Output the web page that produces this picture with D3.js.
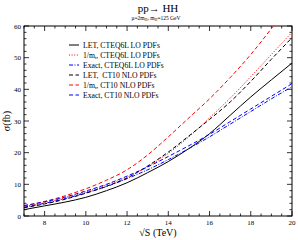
<!DOCTYPE html>
<html>
<head>
<script src="https://d3js.org/d3.v7.min.js"></script>
<style>
  body { margin: 0; background: #fff; }
  text { font-family: "Liberation Serif", "DejaVu Serif", serif; }
</style>
</head>
<body>
<svg width="298" height="240" id="mainSvg"></svg>
<script>
const energies = [7, 8, 9, 10, 11, 12, 13, 14, 15, 16, 17, 18, 19, 20];
const letLO   = [2.0, 3.2, 4.4, 5.9, 8.0, 10.5, 13.7, 17.2, 21.3, 26.0, 31.8, 37.6, 43.0, 48.3];
const invLO   = [2.9, 4.2, 5.8, 7.6, 9.8, 12.3, 15.6, 19.8, 25.0, 31.0, 37.2, 44.0, 51.0, 58.0];
const exactLO = [2.8, 4.0, 5.5, 7.3, 9.3, 11.8, 14.6, 17.8, 21.3, 25.0, 29.0, 33.0, 37.0, 40.8];
const letNLO  = [2.6, 3.8, 5.3, 7.2, 9.4, 12.0, 15.8, 20.2, 25.3, 30.5, 36.0, 42.5, 49.5, 56.3];
const invNLO  = [3.2, 4.6, 6.4, 8.6, 11.3, 14.6, 19.3, 25.0, 31.0, 37.0, 43.7, 51.0, 59.2, 68.0];
const exactNLO= [3.3, 4.5, 6.0, 7.9, 10.0, 12.6, 15.5, 18.8, 22.2, 25.8, 29.8, 33.8, 37.8, 41.8];

const xTicks = [8, 10, 12, 14, 16, 18, 20];
const yTicks = [0, 10, 20, 30, 40, 50, 60];

const series = [
  { name: "LET, CTEQ6L LO PDFs",      values: letLO,    color: "#000", dash: null },
  { name: "1/m_t, CTEQ6L LO PDFs",    values: invLO,    color: "#ff0000", dash: "1,1.6" },
  { name: "Exact, CTEQ6L LO PDFs",    values: exactLO,  color: "#0000ff", dash: "4,1.5,1,1.5" },
  { name: "LET,  CT10 NLO PDFs",      values: letNLO,   color: "#000", dash: "4,2.5" },
  { name: "1/m_t, CT10 NLO PDFs",     values: invNLO,   color: "#ff0000", dash: "4,2.5" },
  { name: "Exact, CT10 NLO PDFs",     values: exactNLO, color: "#0000ff", dash: "4,2.5" }
];

const svg = d3.select("#mainSvg");
const margin = { top: 26, right: 6, bottom: 24, left: 24 };
const width = 298 - margin.left - margin.right;
const height = 240 - margin.top - margin.bottom;

const g = svg.append("g").attr("transform", `translate(${margin.left},${margin.top})`);

const x = d3.scaleLinear().domain([7, 20]).range([0, width]);
const y = d3.scaleLinear().domain([0, 60]).range([height, 0]);

g.append("clipPath").attr("id", "clip")
  .append("rect").attr("width", width).attr("height", height);

// frame
g.append("rect").attr("width", width).attr("height", height)
  .attr("fill", "none").attr("stroke", "#000").attr("stroke-width", 1);

// ticks (inward, mirrored)
const xMinor = d3.range(7, 20.01, 0.5);
const yMinor = d3.range(0, 60.01, 2);
const tickG = g.append("g").attr("stroke", "#000").attr("stroke-width", 0.8);
xMinor.forEach(v => {
  const major = xTicks.includes(v);
  const len = major ? 5 : 2.5;
  tickG.append("line").attr("x1", x(v)).attr("x2", x(v)).attr("y1", height).attr("y2", height - len);
  tickG.append("line").attr("x1", x(v)).attr("x2", x(v)).attr("y1", 0).attr("y2", len);
});
yMinor.forEach(v => {
  const major = yTicks.includes(v);
  const len = major ? 5 : 2.5;
  tickG.append("line").attr("y1", y(v)).attr("y2", y(v)).attr("x1", 0).attr("x2", len);
  tickG.append("line").attr("y1", y(v)).attr("y2", y(v)).attr("x1", width).attr("x2", width - len);
});

g.selectAll(".xl").data(xTicks).join("text")
  .attr("x", d => x(d)).attr("y", height + 9)
  .attr("text-anchor", "middle").attr("font-size", 7).text(d => d);
g.selectAll(".yl").data(yTicks).join("text")
  .attr("x", -3).attr("y", d => y(d) + 2.5)
  .attr("text-anchor", "end").attr("font-size", 7).text(d => d);

// curves
const line = d3.line().x((d, i) => x(energies[i])).y(d => y(d)).curve(d3.curveMonotoneX);
g.append("g").attr("clip-path", "url(#clip)")
  .selectAll("path").data(series).join("path")
  .attr("d", d => line(d.values))
  .attr("fill", "none")
  .attr("stroke", d => d.color)
  .attr("stroke-width", 1)
  .attr("stroke-dasharray", d => d.dash);

// legend
const leg = g.append("g").attr("transform", "translate(45,19)");
series.forEach((s, i) => {
  const row = leg.append("g").attr("transform", `translate(0,${i * 10})`);
  row.append("line").attr("x1", 0).attr("x2", 10).attr("y1", 0).attr("y2", 0)
    .attr("stroke", s.color).attr("stroke-width", 1).attr("stroke-dasharray", s.dash);
  const t = row.append("text").attr("x", 14).attr("y", 2.7).attr("font-size", 7.7)
    .attr("xml:space", "preserve");
  if (s.name.startsWith("1/m_t")) {
    t.append("tspan").text("1/m");
    t.append("tspan").attr("font-size", 5).attr("dy", 1.5).text("t");
    t.append("tspan").attr("dy", -1.5).text(s.name.slice(5));
  } else {
    t.text(s.name);
  }
});

// title
const title = svg.append("text").attr("x", 158).attr("y", 12).attr("text-anchor", "middle").attr("font-size", 11);
title.text("pp\u2192 HH");
const sub = svg.append("text").attr("x", 156).attr("y", 20).attr("text-anchor", "middle").attr("font-size", 5.5);
sub.append("tspan").text("\u03bc=2m");
sub.append("tspan").attr("font-size", 4).attr("dy", 1).text("H");
sub.append("tspan").attr("dy", -1).text(", m");
sub.append("tspan").attr("font-size", 4).attr("dy", 1).text("H");
sub.append("tspan").attr("dy", -1).text("=125 GeV");

// axis titles
svg.append("text").attr("x", 158).attr("y", 236).attr("text-anchor", "middle").attr("font-size", 10)
  .text("\u221aS (TeV)");
svg.append("text").attr("transform", "translate(10,121) rotate(-90)")
  .attr("text-anchor", "middle").attr("font-size", 10).text("\u03c3(fb)");
</script>
</body>
</html>
